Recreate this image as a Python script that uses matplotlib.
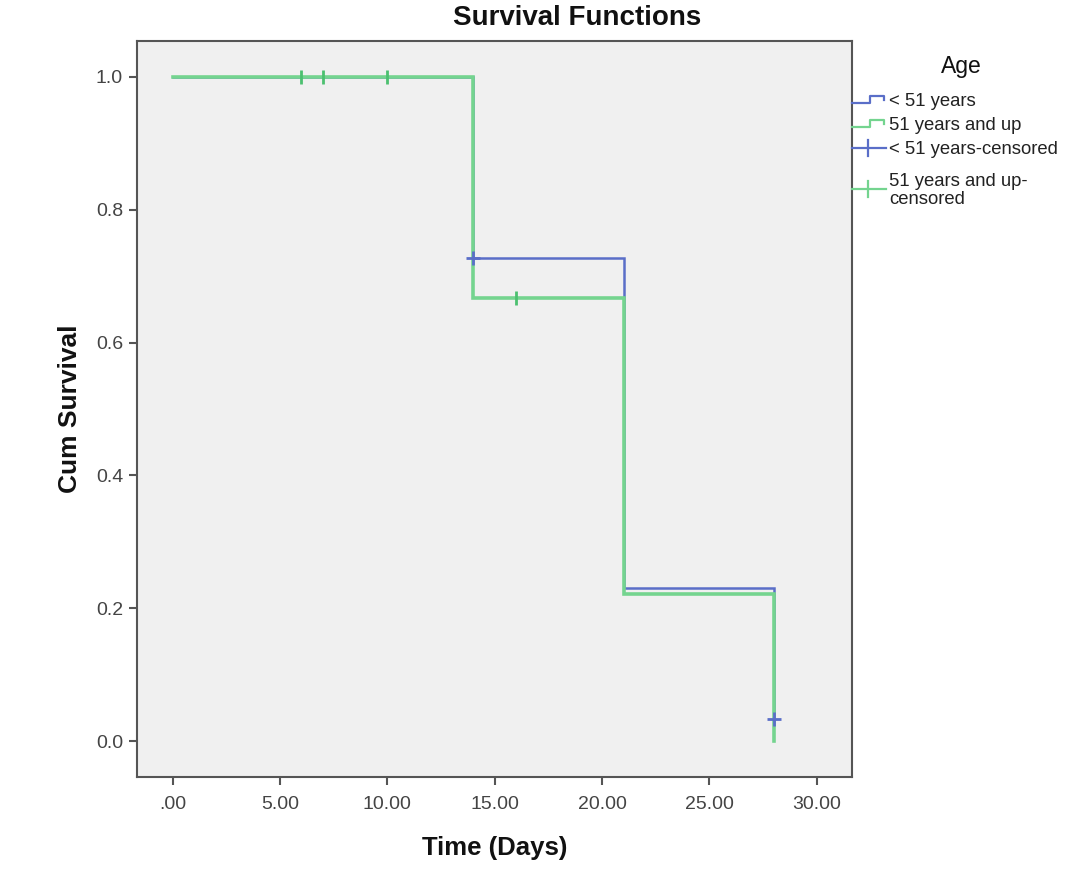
import matplotlib
matplotlib.use("Agg")
import matplotlib.pyplot as plt
from matplotlib.lines import Line2D

plt.rcParams['font.family'] = ['Liberation Sans', 'DejaVu Sans']

# Data
young_times = [0, 14, 21, 28]
young_surv = [1.0, 0.727, 0.23, 0.033]
young_cens_t = [14, 28]
young_cens_s = [0.727, 0.033]

old_times = [0, 14, 21, 28]
old_surv = [1.0, 0.667, 0.222, 0.0]
old_cens_t = [6, 7, 10, 16]
old_cens_s = [1.0, 1.0, 1.0, 0.667]

x_ticks = [0, 5, 10, 15, 20, 25, 30]
x_labels = ['.00', '5.00', '10.00', '15.00', '20.00', '25.00', '30.00']
y_ticks = [0.0, 0.2, 0.4, 0.6, 0.8, 1.0]
y_labels = ['0.0', '0.2', '0.4', '0.6', '0.8', '1.0']

labels = ['< 51 years', '51 years and up', '< 51 years-censored', '51 years and up-\ncensored']

BLUE = '#5a6ec8'
GREEN = '#74d48f'
GREEN_DARK = '#4cc070'

W, H = 1075, 875
fig = plt.figure(figsize=(W / 100, H / 100), dpi=100)
ax = fig.add_axes([137/W, 1-777/H, (852-137)/W, (777-41)/H])
ax.set_facecolor('#f0f0f0')


def step_xy(times, surv):
    xs, ys = [], []
    for i, (t, s) in enumerate(zip(times, surv)):
        if i > 0:
            xs.append(t); ys.append(surv[i-1])
        xs.append(t); ys.append(s)
    return xs, ys

bx, by = step_xy(young_times, young_surv)
gx, gy = step_xy(old_times, old_surv)
ax.plot(bx, by, color=BLUE, lw=1.8, zorder=2, solid_joinstyle='miter')
ax.plot(gx, gy, color=GREEN, lw=2.6, zorder=3, solid_joinstyle='miter')
ax.plot(young_cens_t, young_cens_s, linestyle='none', marker='+', ms=10, mew=2.0, color=BLUE, zorder=5)
ax.plot(old_cens_t, old_cens_s, linestyle='none', marker='|', ms=10, mew=2.0, color=GREEN_DARK, zorder=4)

ax.set_xlim(-1.66, 31.64)
ax.set_ylim(-0.054, 1.054)
ax.set_xticks(x_ticks)
ax.set_xticklabels(x_labels)
ax.set_yticks(y_ticks)
ax.set_yticklabels(y_labels)
for sp in ax.spines.values():
    sp.set_color('#555555')
    sp.set_linewidth(1.5)
ax.tick_params(direction='out', length=6, width=1.5, color='#555555', labelsize=14, labelcolor='#444444', pad=4)
ax.tick_params(axis='x', pad=8)

ax.set_xlabel('Time (Days)', fontsize=18.5, fontweight='bold', labelpad=16, color='#111111')
ax.set_ylabel('Cum Survival', fontsize=19, fontweight='bold', labelpad=10, color='#111111')
fig.text(577 / W, 1 - 18/H, 'Survival Functions', fontsize=20, fontweight='bold',
         ha='center', va='center', color='#111111')


# Manual legend, placed in figure pixel coordinates
def fx(px):
    return px / W


def fy(py):
    return 1 - py / H


fig.text(fx(961), fy(66), 'Age', fontsize=16.5, ha='center', va='center', color='#111111')

# step-shaped handles
for yc, col in [(99, BLUE), (123, GREEN)]:
    xs = [852, 870, 870, 884, 884]
    ys = [yc + 4, yc + 4, yc - 3, yc - 3, yc + 1]
    fig.add_artist(Line2D([fx(v) for v in xs], [fy(v) for v in ys], color=col, lw=1.6,
                          transform=fig.transFigure))
# censored handles
for yc, col in [(148, BLUE), (189, GREEN)]:
    fig.add_artist(Line2D([fx(852), fx(886)], [fy(yc), fy(yc)], color=col, lw=1.6,
                          transform=fig.transFigure))
    fig.add_artist(Line2D([fx(868), fx(868)], [fy(yc - 8), fy(yc + 8)], color=col, lw=1.6,
                          transform=fig.transFigure))

text_y = [101, 125, 150, 190.5]
for lab, yc in zip(labels, text_y):
    fig.text(fx(889), fy(yc), lab, fontsize=13.3, ha='left', va='center', color='#222222',
             linespacing=1.0)

fig.savefig('out.png', dpi=100)
